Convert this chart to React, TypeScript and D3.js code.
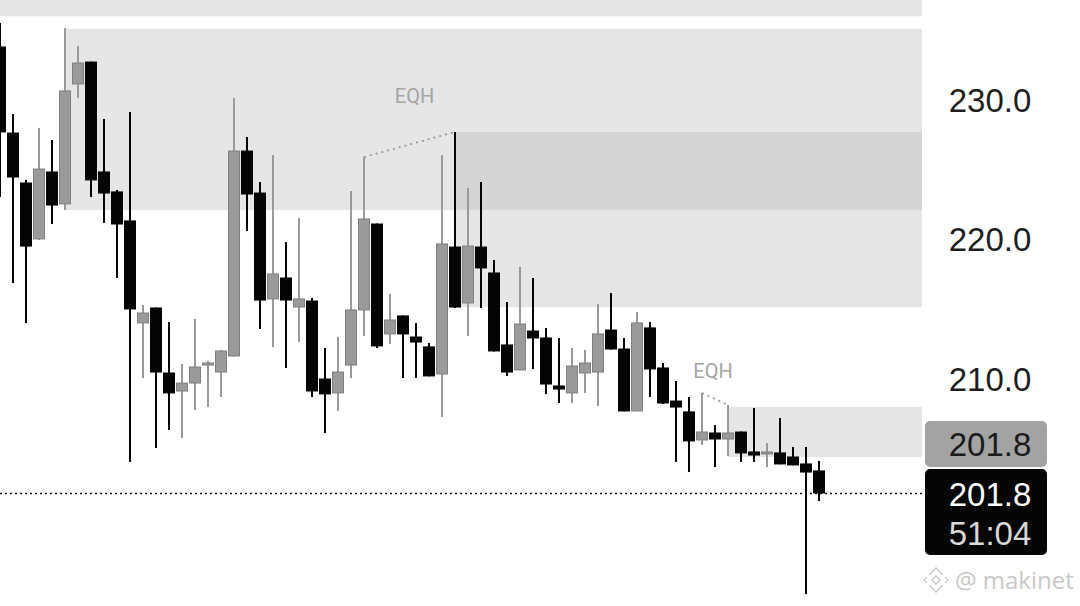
import * as d3 from 'd3';

// OHLC, one entry per candle (left to right)
const opens = [
  233.8, 227.63, 224.05, 220.04, 224.84, 222.55, 231.15, 232.72, 224.84, 223.41,
  221.33, 214.02, 215.09, 210.43, 209.14, 209.71, 211.0, 210.5, 211.65, 226.34,
  223.33, 215.74, 217.24, 215.16, 215.59, 210.0, 209.0, 211.0, 214.95, 221.11,
  213.23, 214.52, 213.01, 212.3, 210.36, 219.46, 215.45, 219.46, 217.6, 212.44,
  210.65, 213.44, 212.94, 209.5, 209.0, 210.43, 210.5, 213.51, 212.15, 207.71,
  213.66, 210.79, 208.42, 207.64, 205.63, 206.13, 205.7, 206.2, 204.77, 204.7,
  204.7, 204.41, 203.91, 203.41,
];
const highs = [
  235.52, 229.0, 224.27, 227.99, 227.13, 235.16, 233.87, 232.75, 228.64, 223.55,
  229.14, 215.31, 215.12, 214.09, 211.08, 214.3, 211.29, 212.08, 230.14, 227.35,
  224.12, 226.06, 219.82, 221.54, 215.81, 212.22, 213.01, 223.48, 225.91, 221.14,
  216.09, 214.55, 214.02, 212.58, 226.06, 227.71, 223.69, 224.12, 218.53, 215.52,
  218.03, 217.24, 213.66, 212.94, 212.22, 212.08, 215.38, 216.17, 212.94, 214.8,
  214.09, 211.15, 209.86, 208.71, 209.0, 206.7, 208.14, 206.23, 207.92, 205.41,
  207.21, 205.13, 205.13, 204.12,
];
const lows = [
  223.05, 216.88, 214.02, 219.96, 221.11, 222.12, 230.14, 223.05, 221.18, 217.24,
  204.05, 210.07, 205.06, 206.35, 205.77, 207.78, 207.99, 208.71, 211.6, 220.61,
  213.58, 212.29, 210.79, 212.65, 208.71, 206.13, 207.71, 210.07, 213.08, 212.22,
  212.51, 210.07, 210.07, 210.2, 207.28, 215.09, 213.08, 215.09, 211.98, 210.22,
  210.62, 210.72, 208.92, 208.28, 208.28, 209.0, 208.07, 212.12, 207.68, 207.68,
  208.71, 208.21, 204.05, 203.33, 205.27, 203.69, 204.48, 204.05, 204.05, 203.69,
  203.88, 203.81, 194.59, 201.26,
];
const closes = [
  227.71, 224.48, 219.53, 225.05, 222.47, 230.65, 232.65, 224.27, 223.33, 221.11,
  215.02, 214.73, 210.5, 209.0, 209.71, 210.86, 211.15, 212.01, 226.34, 223.26,
  215.66, 217.53, 215.66, 215.74, 209.14, 208.93, 210.5, 214.95, 221.47, 212.37,
  214.23, 213.23, 212.65, 210.22, 219.68, 215.16, 219.53, 217.96, 212.01, 210.5,
  213.94, 212.94, 209.64, 209.28, 210.93, 211.15, 213.23, 212.15, 207.71, 214.02,
  210.72, 208.28, 207.99, 205.56, 206.2, 205.7, 206.13, 204.7, 204.55, 204.77,
  203.91, 203.84, 203.33, 201.83,
];

// supply zones: starting candle, top, bottom (all run to the price scale)
const zoneStart = [0, 5, 35, 56];
const zoneTop = [237.3, 235.1, 227.7, 208.0];
const zoneBottom = [236.0, 222.1, 215.15, 204.4];

// equal-high markers: pair of candle indices
const eqhFrom = [28, 54];
const eqhTo = [35, 56];

const priceTicks = [230, 220, 210];
const lastPrice = 201.8;
const countdown = '51:04';

const W = 1080;
const H = 606;
const plotRight = 922;

export default function App() {
  const x = d3.scaleLinear().domain([0, 71]).range([0, 923]);
  const y = d3.scaleLinear().domain([210, 230]).range([379, 100]);
  const fmt = d3.format('.1f');
  const bodyW = 11;
  const font = 'Roboto, "Noto Sans", sans-serif';
  const axisFont = '"Liberation Sans", Arial, sans-serif';
  const axisSize = 33;

  const candles = opens.map((o, i) => ({
    i,
    o,
    h: highs[i],
    l: lows[i],
    c: closes[i],
    up: closes[i] >= o,
  }));

  const lastY = y(lastPrice);

  return (
    <svg
      width={W}
      height={H}
      style={{ position: 'absolute', left: 0, top: 0, background: '#fff' }}
    >
      {/* zones */}
      <g>
        {zoneStart.map((s, k) => (
          <rect
            key={k}
            x={x(s)}
            y={y(zoneTop[k])}
            width={plotRight - x(s)}
            height={y(zoneBottom[k]) - y(zoneTop[k])}
            fill="rgb(177,177,177)"
            fillOpacity={0.32}
          />
        ))}
      </g>

      {/* current price line */}
      <line
        x1={0}
        x2={plotRight}
        y1={lastY}
        y2={lastY}
        stroke="#111"
        strokeWidth={1.5}
        strokeDasharray="2,3"
      />

      {/* EQH markers */}
      {eqhFrom.map((a, k) => {
        const b = eqhTo[k];
        const mx = (x(a) + x(b)) / 2;
        const top = Math.min(y(highs[a]), y(highs[b]));
        return (
          <g key={k}>
            <line
              x1={x(a)}
              y1={y(highs[a])}
              x2={x(b)}
              y2={y(highs[b])}
              stroke="#999"
              strokeWidth={1.8}
              strokeDasharray="2,4"
            />
            <text
              x={k === 0 ? mx + 5 : mx - 2}
              y={top - (k === 0 ? 29 : 15)}
              textAnchor="middle"
              fontFamily={font}
              fontSize={20}
              fill="#a5a5a5"
            >
              EQH
            </text>
          </g>
        );
      })}

      {/* candles */}
      <g>
        {candles.map((d) => {
          const col = d.up ? '#9a9a9a' : '#050505';
          const top = y(Math.max(d.o, d.c));
          const bot = y(Math.min(d.o, d.c));
          return (
            <g key={d.i}>
              <line
                x1={x(d.i)}
                x2={x(d.i)}
                y1={y(d.h)}
                y2={y(d.l)}
                stroke={col}
                strokeWidth={2}
              />
              <rect
                x={x(d.i) - bodyW / 2}
                y={top}
                width={bodyW}
                height={Math.max(2, bot - top)}
                fill={col}
                stroke={d.up ? '#808080' : '#050505'}
                strokeWidth={1}
              />
            </g>
          );
        })}
      </g>

      {/* price scale */}
      {priceTicks.map((t) => (
        <text
          key={t}
          x={990}
          y={y(t)}
          dy="0.36em"
          textAnchor="middle"
          fontFamily={axisFont}
          fontSize={axisSize}
          fill="#1e1e1e"
        >
          {fmt(t)}
        </text>
      ))}

      {/* zone price tag */}
      <rect x={925} y={421} width={122} height={46} rx={5} fill="#a3a3a3" />
      <text
        x={990}
        y={444}
        dy="0.36em"
        textAnchor="middle"
        fontFamily={axisFont}
        fontSize={axisSize}
        fill="#1a1a1a"
      >
        {fmt(lastPrice)}
      </text>

      {/* last price tag */}
      <rect x={925} y={469} width={122} height={86} rx={5} fill="#050505" />
      <text
        x={990}
        y={lastY + 1}
        dy="0.36em"
        textAnchor="middle"
        fontFamily={axisFont}
        fontSize={axisSize}
        fill="#fff"
      >
        {fmt(lastPrice)}
      </text>
      <text
        x={990}
        y={533}
        dy="0.36em"
        textAnchor="middle"
        fontFamily={axisFont}
        fontSize={axisSize}
        fill="#d8d8d8"
      >
        {countdown}
      </text>

      {/* watermark */}
      <g transform="translate(936,580)" fill="none" stroke="#d0d0d0" strokeWidth={1.6}>
        <path d="M0,-4 L4,0 L0,4 L-4,0 Z" />
        <path d="M-7,-5 L0,-12 L7,-5" />
        <path d="M-7,5 L0,12 L7,5" />
        <path d="M-9,-3 L-12,0 L-9,3" />
        <path d="M9,-3 L12,0 L9,3" />
      </g>
      <text
        x={955}
        y={580}
        dy="0.36em"
        fontFamily='"Open Sans", "Noto Sans", sans-serif'
        fontSize={24}
        fill="#c8c8c8"
      >
        @ makinet
      </text>
    </svg>
  );
}
